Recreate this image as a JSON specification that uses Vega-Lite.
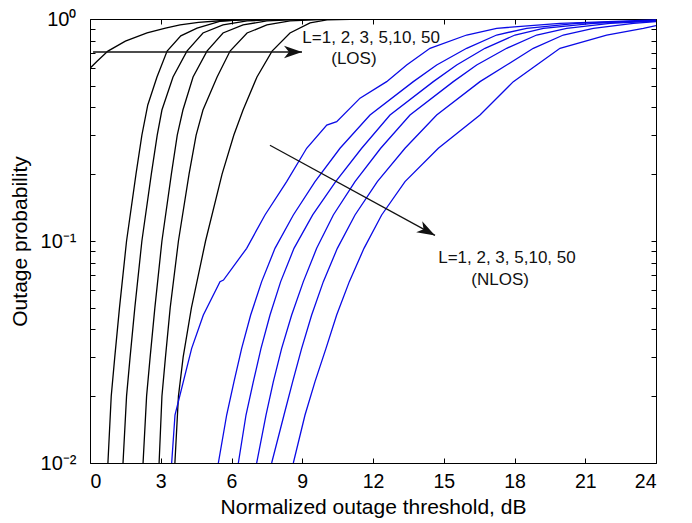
{
  "$schema": "https://vega.github.io/schema/vega-lite/v6.json",
  "width": 566,
  "height": 444,
  "autosize": "none",
  "padding": {"left": 90, "top": 19, "right": 36, "bottom": 60},
  "background": "white",
  "config": {
    "font": "Liberation Sans",
    "view": {"stroke": "black", "strokeWidth": 1},
    "axis": {
      "domain": false,
      "grid": false,
      "tickColor": "black",
      "tickSize": -5,
      "tickWidth": 1,
      "labelColor": "black",
      "titleColor": "black",
      "labelFont": "Liberation Sans",
      "titleFont": "Liberation Sans",
      "labelFontSize": 19.5,
      "titleFontSize": 21,
      "titleFontWeight": "normal"
    }
  },
  "datasets": {
    "curves": [
      {"x": 0, "p": 0.60, "curve": "LOS1", "type": "LOS"},
      {"x": 0.3, "p": 0.645, "curve": "LOS1", "type": "LOS"},
      {"x": 0.76, "p": 0.717, "curve": "LOS1", "type": "LOS"},
      {"x": 1.5, "p": 0.795, "curve": "LOS1", "type": "LOS"},
      {"x": 2.42, "p": 0.865, "curve": "LOS1", "type": "LOS"},
      {"x": 3.2, "p": 0.91, "curve": "LOS1", "type": "LOS"},
      {"x": 3.82, "p": 0.94, "curve": "LOS1", "type": "LOS"},
      {"x": 4.6, "p": 0.965, "curve": "LOS1", "type": "LOS"},
      {"x": 5.5, "p": 0.982, "curve": "LOS1", "type": "LOS"},
      {"x": 6.9, "p": 0.995, "curve": "LOS1", "type": "LOS"},
      {"x": 9, "p": 1.0, "curve": "LOS1", "type": "LOS"},

      {"x": 0.76, "p": 0.01, "curve": "LOS2", "type": "LOS"},
      {"x": 0.9, "p": 0.02, "curve": "LOS2", "type": "LOS"},
      {"x": 1.05, "p": 0.03, "curve": "LOS2", "type": "LOS"},
      {"x": 1.25, "p": 0.05, "curve": "LOS2", "type": "LOS"},
      {"x": 1.55, "p": 0.1, "curve": "LOS2", "type": "LOS"},
      {"x": 1.95, "p": 0.2, "curve": "LOS2", "type": "LOS"},
      {"x": 2.2, "p": 0.3, "curve": "LOS2", "type": "LOS"},
      {"x": 2.45, "p": 0.41, "curve": "LOS2", "type": "LOS"},
      {"x": 2.84, "p": 0.548, "curve": "LOS2", "type": "LOS"},
      {"x": 3.27, "p": 0.717, "curve": "LOS2", "type": "LOS"},
      {"x": 3.85, "p": 0.84, "curve": "LOS2", "type": "LOS"},
      {"x": 4.54, "p": 0.91, "curve": "LOS2", "type": "LOS"},
      {"x": 5.5, "p": 0.975, "curve": "LOS2", "type": "LOS"},
      {"x": 6.5, "p": 0.995, "curve": "LOS2", "type": "LOS"},
      {"x": 9, "p": 1.0, "curve": "LOS2", "type": "LOS"},

      {"x": 1.40, "p": 0.01, "curve": "LOS3", "type": "LOS"},
      {"x": 1.55, "p": 0.02, "curve": "LOS3", "type": "LOS"},
      {"x": 1.7, "p": 0.03, "curve": "LOS3", "type": "LOS"},
      {"x": 1.9, "p": 0.05, "curve": "LOS3", "type": "LOS"},
      {"x": 2.2, "p": 0.1, "curve": "LOS3", "type": "LOS"},
      {"x": 2.6, "p": 0.2, "curve": "LOS3", "type": "LOS"},
      {"x": 2.85, "p": 0.3, "curve": "LOS3", "type": "LOS"},
      {"x": 3.05, "p": 0.389, "curve": "LOS3", "type": "LOS"},
      {"x": 3.52, "p": 0.548, "curve": "LOS3", "type": "LOS"},
      {"x": 4.11, "p": 0.717, "curve": "LOS3", "type": "LOS"},
      {"x": 4.79, "p": 0.865, "curve": "LOS3", "type": "LOS"},
      {"x": 5.64, "p": 0.94, "curve": "LOS3", "type": "LOS"},
      {"x": 6.66, "p": 0.98, "curve": "LOS3", "type": "LOS"},
      {"x": 8, "p": 0.997, "curve": "LOS3", "type": "LOS"},
      {"x": 10, "p": 1.0, "curve": "LOS3", "type": "LOS"},

      {"x": 2.25, "p": 0.01, "curve": "LOS5", "type": "LOS"},
      {"x": 2.4, "p": 0.02, "curve": "LOS5", "type": "LOS"},
      {"x": 2.55, "p": 0.03, "curve": "LOS5", "type": "LOS"},
      {"x": 2.75, "p": 0.05, "curve": "LOS5", "type": "LOS"},
      {"x": 3.05, "p": 0.1, "curve": "LOS5", "type": "LOS"},
      {"x": 3.45, "p": 0.2, "curve": "LOS5", "type": "LOS"},
      {"x": 3.7, "p": 0.3, "curve": "LOS5", "type": "LOS"},
      {"x": 3.94, "p": 0.389, "curve": "LOS5", "type": "LOS"},
      {"x": 4.37, "p": 0.548, "curve": "LOS5", "type": "LOS"},
      {"x": 4.96, "p": 0.717, "curve": "LOS5", "type": "LOS"},
      {"x": 5.64, "p": 0.865, "curve": "LOS5", "type": "LOS"},
      {"x": 6.49, "p": 0.94, "curve": "LOS5", "type": "LOS"},
      {"x": 7.5, "p": 0.98, "curve": "LOS5", "type": "LOS"},
      {"x": 9, "p": 0.997, "curve": "LOS5", "type": "LOS"},
      {"x": 11, "p": 1.0, "curve": "LOS5", "type": "LOS"},

      {"x": 2.93, "p": 0.01, "curve": "LOS10", "type": "LOS"},
      {"x": 3.05, "p": 0.02, "curve": "LOS10", "type": "LOS"},
      {"x": 3.2, "p": 0.03, "curve": "LOS10", "type": "LOS"},
      {"x": 3.4, "p": 0.05, "curve": "LOS10", "type": "LOS"},
      {"x": 3.75, "p": 0.1, "curve": "LOS10", "type": "LOS"},
      {"x": 4.2, "p": 0.2, "curve": "LOS10", "type": "LOS"},
      {"x": 4.5, "p": 0.3, "curve": "LOS10", "type": "LOS"},
      {"x": 4.79, "p": 0.389, "curve": "LOS10", "type": "LOS"},
      {"x": 5.39, "p": 0.548, "curve": "LOS10", "type": "LOS"},
      {"x": 5.94, "p": 0.717, "curve": "LOS10", "type": "LOS"},
      {"x": 6.66, "p": 0.865, "curve": "LOS10", "type": "LOS"},
      {"x": 7.5, "p": 0.94, "curve": "LOS10", "type": "LOS"},
      {"x": 8.48, "p": 0.98, "curve": "LOS10", "type": "LOS"},
      {"x": 10, "p": 0.997, "curve": "LOS10", "type": "LOS"},
      {"x": 12, "p": 1.0, "curve": "LOS10", "type": "LOS"},

      {"x": 3.60, "p": 0.01, "curve": "LOS50", "type": "LOS"},
      {"x": 3.75, "p": 0.02, "curve": "LOS50", "type": "LOS"},
      {"x": 3.95, "p": 0.03, "curve": "LOS50", "type": "LOS"},
      {"x": 4.3, "p": 0.05, "curve": "LOS50", "type": "LOS"},
      {"x": 4.9, "p": 0.1, "curve": "LOS50", "type": "LOS"},
      {"x": 5.6, "p": 0.2, "curve": "LOS50", "type": "LOS"},
      {"x": 6.1, "p": 0.3, "curve": "LOS50", "type": "LOS"},
      {"x": 6.49, "p": 0.389, "curve": "LOS50", "type": "LOS"},
      {"x": 7.08, "p": 0.548, "curve": "LOS50", "type": "LOS"},
      {"x": 7.72, "p": 0.717, "curve": "LOS50", "type": "LOS"},
      {"x": 8.48, "p": 0.865, "curve": "LOS50", "type": "LOS"},
      {"x": 9.33, "p": 0.96, "curve": "LOS50", "type": "LOS"},
      {"x": 10.05, "p": 0.99, "curve": "LOS50", "type": "LOS"},
      {"x": 11.5, "p": 0.999, "curve": "LOS50", "type": "LOS"},
      {"x": 13, "p": 1.0, "curve": "LOS50", "type": "LOS"},

      {"x": 3.463, "p": 0.01, "curve": "NLOS1", "type": "NLOS"},
      {"x": 3.604, "p": 0.01645, "curve": "NLOS1", "type": "NLOS"},
      {"x": 3.958, "p": 0.02325, "curve": "NLOS1", "type": "NLOS"},
      {"x": 4.311, "p": 0.03284, "curve": "NLOS1", "type": "NLOS"},
      {"x": 4.806, "p": 0.04642, "curve": "NLOS1", "type": "NLOS"},
      {"x": 5.512, "p": 0.06561, "curve": "NLOS1", "type": "NLOS"},
      {"x": 5.66, "p": 0.0667, "curve": "NLOS1", "type": "NLOS"},
      {"x": 6.643, "p": 0.09268, "curve": "NLOS1", "type": "NLOS"},
      {"x": 7.420, "p": 0.1310, "curve": "NLOS1", "type": "NLOS"},
      {"x": 8.339, "p": 0.1851, "curve": "NLOS1", "type": "NLOS"},
      {"x": 9.187, "p": 0.2616, "curve": "NLOS1", "type": "NLOS"},
      {"x": 10.04, "p": 0.333, "curve": "NLOS1", "type": "NLOS"},
      {"x": 10.46, "p": 0.345, "curve": "NLOS1", "type": "NLOS"},
      {"x": 11.45, "p": 0.44, "curve": "NLOS1", "type": "NLOS"},
      {"x": 12.579, "p": 0.5222, "curve": "NLOS1", "type": "NLOS"},
      {"x": 13.427, "p": 0.6206, "curve": "NLOS1", "type": "NLOS"},
      {"x": 14.417, "p": 0.7379, "curve": "NLOS1", "type": "NLOS"},
      {"x": 15.971, "p": 0.8470, "curve": "NLOS1", "type": "NLOS"},
      {"x": 17.243, "p": 0.9078, "curve": "NLOS1", "type": "NLOS"},
      {"x": 19.929, "p": 0.956, "curve": "NLOS1", "type": "NLOS"},
      {"x": 24, "p": 0.99, "curve": "NLOS1", "type": "NLOS"},

      {"x": 5.442, "p": 0.01, "curve": "NLOS2", "type": "NLOS"},
      {"x": 5.795, "p": 0.01645, "curve": "NLOS2", "type": "NLOS"},
      {"x": 6.106, "p": 0.02325, "curve": "NLOS2", "type": "NLOS"},
      {"x": 6.431, "p": 0.03284, "curve": "NLOS2", "type": "NLOS"},
      {"x": 6.813, "p": 0.04642, "curve": "NLOS2", "type": "NLOS"},
      {"x": 7.279, "p": 0.06561, "curve": "NLOS2", "type": "NLOS"},
      {"x": 7.844, "p": 0.09268, "curve": "NLOS2", "type": "NLOS"},
      {"x": 8.622, "p": 0.1310, "curve": "NLOS2", "type": "NLOS"},
      {"x": 9.541, "p": 0.1851, "curve": "NLOS2", "type": "NLOS"},
      {"x": 10.601, "p": 0.2616, "curve": "NLOS2", "type": "NLOS"},
      {"x": 11.873, "p": 0.3695, "curve": "NLOS2", "type": "NLOS"},
      {"x": 13.71, "p": 0.5222, "curve": "NLOS2", "type": "NLOS"},
      {"x": 14.70, "p": 0.6206, "curve": "NLOS2", "type": "NLOS"},
      {"x": 15.971, "p": 0.7379, "curve": "NLOS2", "type": "NLOS"},
      {"x": 17.243, "p": 0.8470, "curve": "NLOS2", "type": "NLOS"},
      {"x": 18.515, "p": 0.9078, "curve": "NLOS2", "type": "NLOS"},
      {"x": 20.636, "p": 0.956, "curve": "NLOS2", "type": "NLOS"},
      {"x": 24, "p": 0.986, "curve": "NLOS2", "type": "NLOS"},

      {"x": 6.290, "p": 0.01, "curve": "NLOS3", "type": "NLOS"},
      {"x": 6.615, "p": 0.01645, "curve": "NLOS3", "type": "NLOS"},
      {"x": 6.926, "p": 0.02325, "curve": "NLOS3", "type": "NLOS"},
      {"x": 7.251, "p": 0.03284, "curve": "NLOS3", "type": "NLOS"},
      {"x": 7.633, "p": 0.04642, "curve": "NLOS3", "type": "NLOS"},
      {"x": 8.085, "p": 0.06561, "curve": "NLOS3", "type": "NLOS"},
      {"x": 8.650, "p": 0.09268, "curve": "NLOS3", "type": "NLOS"},
      {"x": 9.442, "p": 0.1310, "curve": "NLOS3", "type": "NLOS"},
      {"x": 10.417, "p": 0.1851, "curve": "NLOS3", "type": "NLOS"},
      {"x": 11.520, "p": 0.2616, "curve": "NLOS3", "type": "NLOS"},
      {"x": 12.721, "p": 0.3695, "curve": "NLOS3", "type": "NLOS"},
      {"x": 14.558, "p": 0.5222, "curve": "NLOS3", "type": "NLOS"},
      {"x": 15.548, "p": 0.6206, "curve": "NLOS3", "type": "NLOS"},
      {"x": 16.749, "p": 0.7379, "curve": "NLOS3", "type": "NLOS"},
      {"x": 18.021, "p": 0.8470, "curve": "NLOS3", "type": "NLOS"},
      {"x": 19.222, "p": 0.9078, "curve": "NLOS3", "type": "NLOS"},
      {"x": 21.343, "p": 0.956, "curve": "NLOS3", "type": "NLOS"},
      {"x": 24, "p": 0.983, "curve": "NLOS3", "type": "NLOS"},

      {"x": 7.067, "p": 0.01, "curve": "NLOS5", "type": "NLOS"},
      {"x": 7.463, "p": 0.01645, "curve": "NLOS5", "type": "NLOS"},
      {"x": 7.774, "p": 0.02325, "curve": "NLOS5", "type": "NLOS"},
      {"x": 8.127, "p": 0.03284, "curve": "NLOS5", "type": "NLOS"},
      {"x": 8.551, "p": 0.04642, "curve": "NLOS5", "type": "NLOS"},
      {"x": 9.046, "p": 0.06561, "curve": "NLOS5", "type": "NLOS"},
      {"x": 9.611, "p": 0.09268, "curve": "NLOS5", "type": "NLOS"},
      {"x": 10.318, "p": 0.1310, "curve": "NLOS5", "type": "NLOS"},
      {"x": 11.237, "p": 0.1851, "curve": "NLOS5", "type": "NLOS"},
      {"x": 12.325, "p": 0.2616, "curve": "NLOS5", "type": "NLOS"},
      {"x": 13.569, "p": 0.3695, "curve": "NLOS5", "type": "NLOS"},
      {"x": 15.406, "p": 0.5222, "curve": "NLOS5", "type": "NLOS"},
      {"x": 16.396, "p": 0.6206, "curve": "NLOS5", "type": "NLOS"},
      {"x": 17.668, "p": 0.7379, "curve": "NLOS5", "type": "NLOS"},
      {"x": 18.940, "p": 0.8470, "curve": "NLOS5", "type": "NLOS"},
      {"x": 20.212, "p": 0.9078, "curve": "NLOS5", "type": "NLOS"},
      {"x": 22.049, "p": 0.956, "curve": "NLOS5", "type": "NLOS"},
      {"x": 24, "p": 0.979, "curve": "NLOS5", "type": "NLOS"},

      {"x": 7.703, "p": 0.01, "curve": "NLOS10", "type": "NLOS"},
      {"x": 8.226, "p": 0.01645, "curve": "NLOS10", "type": "NLOS"},
      {"x": 8.594, "p": 0.02325, "curve": "NLOS10", "type": "NLOS"},
      {"x": 8.975, "p": 0.03284, "curve": "NLOS10", "type": "NLOS"},
      {"x": 9.399, "p": 0.04642, "curve": "NLOS10", "type": "NLOS"},
      {"x": 9.894, "p": 0.06561, "curve": "NLOS10", "type": "NLOS"},
      {"x": 10.488, "p": 0.09268, "curve": "NLOS10", "type": "NLOS"},
      {"x": 11.237, "p": 0.1310, "curve": "NLOS10", "type": "NLOS"},
      {"x": 12.184, "p": 0.1851, "curve": "NLOS10", "type": "NLOS"},
      {"x": 13.357, "p": 0.2616, "curve": "NLOS10", "type": "NLOS"},
      {"x": 14.700, "p": 0.3695, "curve": "NLOS10", "type": "NLOS"},
      {"x": 16.537, "p": 0.5222, "curve": "NLOS10", "type": "NLOS"},
      {"x": 17.668, "p": 0.6206, "curve": "NLOS10", "type": "NLOS"},
      {"x": 18.798, "p": 0.7379, "curve": "NLOS10", "type": "NLOS"},
      {"x": 20.070, "p": 0.8470, "curve": "NLOS10", "type": "NLOS"},
      {"x": 21.343, "p": 0.9078, "curve": "NLOS10", "type": "NLOS"},
      {"x": 23.039, "p": 0.956, "curve": "NLOS10", "type": "NLOS"},
      {"x": 24, "p": 0.973, "curve": "NLOS10", "type": "NLOS"},

      {"x": 8.622, "p": 0.01, "curve": "NLOS50", "type": "NLOS"},
      {"x": 9.117, "p": 0.01645, "curve": "NLOS50", "type": "NLOS"},
      {"x": 9.541, "p": 0.02325, "curve": "NLOS50", "type": "NLOS"},
      {"x": 10.007, "p": 0.03284, "curve": "NLOS50", "type": "NLOS"},
      {"x": 10.459, "p": 0.04642, "curve": "NLOS50", "type": "NLOS"},
      {"x": 10.996, "p": 0.06561, "curve": "NLOS50", "type": "NLOS"},
      {"x": 11.618, "p": 0.09268, "curve": "NLOS50", "type": "NLOS"},
      {"x": 12.367, "p": 0.1310, "curve": "NLOS50", "type": "NLOS"},
      {"x": 13.357, "p": 0.1851, "curve": "NLOS50", "type": "NLOS"},
      {"x": 14.770, "p": 0.2616, "curve": "NLOS50", "type": "NLOS"},
      {"x": 16.537, "p": 0.3695, "curve": "NLOS50", "type": "NLOS"},
      {"x": 17.951, "p": 0.5222, "curve": "NLOS50", "type": "NLOS"},
      {"x": 18.940, "p": 0.6206, "curve": "NLOS50", "type": "NLOS"},
      {"x": 19.929, "p": 0.7379, "curve": "NLOS50", "type": "NLOS"},
      {"x": 21.908, "p": 0.8470, "curve": "NLOS50", "type": "NLOS"},
      {"x": 23.463, "p": 0.9078, "curve": "NLOS50", "type": "NLOS"},
      {"x": 24, "p": 0.933, "curve": "NLOS50", "type": "NLOS"}
    ],
    "arrows": [
      {"x": 0.13, "p": 0.71, "arrow": "LOS"},
      {"x": 8.99, "p": 0.71, "arrow": "LOS"},
      {"x": 7.63, "p": 0.27, "arrow": "NLOS"},
      {"x": 14.63, "p": 0.106, "arrow": "NLOS"}
    ],
    "heads": [
      {"x": 8.99, "p": 0.71, "arrow": "LOS"},
      {"x": 14.63, "p": 0.106, "arrow": "NLOS"}
    ],
    "labels": [
      {"x": 11.92, "p": 0.821, "text": "L=1, 2, 3, 5,10, 50"},
      {"x": 11.19, "p": 0.66, "text": "(LOS)"},
      {"x": 17.68, "p": 0.0838, "text": "L=1, 2, 3, 5,10, 50"},
      {"x": 17.39, "p": 0.0667, "text": "(NLOS)"}
    ]
  },
  "resolve": {"axis": {"x": "independent", "y": "independent"}},
  "layer": [
    {
      "data": {"name": "curves"},
      "mark": {"type": "line", "clip": true, "strokeWidth": 1.3},
      "encoding": {
        "x": {
          "field": "x", "type": "quantitative",
          "scale": {"domain": [0, 24], "nice": false, "zero": false},
          "axis": {
            "orient": "bottom",
            "values": [0, 3, 6, 9, 12, 15, 18, 21, 24],
            "title": "Normalized outage threshold, dB",
            "labelPadding": 14,
            "titlePadding": 6
          }
        },
        "y": {
          "field": "p", "type": "quantitative",
          "scale": {"type": "log", "domain": [0.01, 1], "nice": false},
          "axis": {
            "orient": "left",
            "values": [0.01, 0.02, 0.03, 0.04, 0.05, 0.06, 0.07, 0.08, 0.09, 0.1, 0.2, 0.3, 0.4, 0.5, 0.6, 0.7, 0.8, 0.9, 1],
            "labelExpr": "datum.value == 1 ? '10⁰' : (datum.value == 0.1 ? '10⁻¹' : (datum.value == 0.01 ? '10⁻²' : ''))",
            "labelPadding": 19,
            "labelFontSize": 20,
            "title": "Outage probability",
            "titlePadding": 10
          }
        },
        "detail": {"field": "curve"},
        "color": {
          "field": "type", "type": "nominal",
          "scale": {"domain": ["LOS", "NLOS"], "range": ["#000000", "#0a0ae6"]},
          "legend": null
        }
      }
    },
    {
      "data": {"name": "arrows"},
      "mark": {"type": "line", "color": "#111111", "strokeWidth": 1.3},
      "encoding": {
        "x": {"field": "x", "type": "quantitative", "axis": null},
        "y": {"field": "p", "type": "quantitative", "axis": null},
        "detail": {"field": "arrow"}
      }
    },
    {
      "data": {"name": "heads"},
      "transform": [{"filter": "datum.arrow == 'LOS'"}],
      "mark": {"type": "point", "filled": true, "color": "#111111", "opacity": 1, "size": 324, "angle": 0,
               "shape": "M0,0 L-2,-0.7 L-1.45,0 L-2,0.7 Z"},
      "encoding": {
        "x": {"field": "x", "type": "quantitative", "axis": null},
        "y": {"field": "p", "type": "quantitative", "axis": null}
      }
    },
    {
      "data": {"name": "heads"},
      "transform": [{"filter": "datum.arrow == 'NLOS'"}],
      "mark": {"type": "point", "filled": true, "color": "#111111", "opacity": 1, "size": 324, "angle": 28.6,
               "shape": "M0,0 L-2,-0.7 L-1.45,0 L-2,0.7 Z"},
      "encoding": {
        "x": {"field": "x", "type": "quantitative", "axis": null},
        "y": {"field": "p", "type": "quantitative", "axis": null}
      }
    },
    {
      "data": {"name": "labels"},
      "mark": {"type": "text", "font": "Liberation Sans", "fontSize": 17, "color": "#111111", "align": "center", "baseline": "middle"},
      "encoding": {
        "x": {
          "field": "x", "type": "quantitative",
          "axis": {"orient": "top", "values": [0, 3, 6, 9, 12, 15, 18, 21, 24], "labels": false, "title": null}
        },
        "y": {
          "field": "p", "type": "quantitative",
          "axis": {"orient": "right", "values": [0.01, 0.02, 0.03, 0.04, 0.05, 0.06, 0.07, 0.08, 0.09, 0.1, 0.2, 0.3, 0.4, 0.5, 0.6, 0.7, 0.8, 0.9, 1], "labels": false, "title": null}
        },
        "text": {"field": "text"}
      }
    }
  ]
}
